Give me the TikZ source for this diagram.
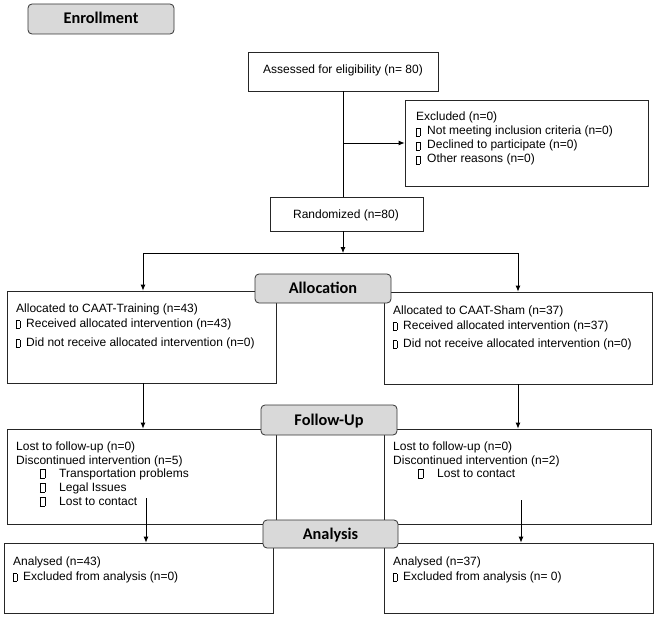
\documentclass[tikz,border=0pt]{standalone}
\usepackage{fontspec}
\setmainfont{Liberation Sans}
\newfontfamily\hdfont{Carlito}
\usetikzlibrary{arrows.meta,fit}
\newcommand\sqg[2]{\raisebox{-1pt}{\framebox(#1,#2){}}}
\newcommand\bl[1]{\makebox[#1][l]{\sqg{3.5}{7.5}}}
\newcommand\blb[1]{\makebox[#1][l]{\sqg{4.5}{9}}}
\begin{document}
\begin{tikzpicture}[x=1pt,y=-1pt,
 box/.style={draw=black!85, line width=0.8pt, inner sep=0pt},
 hdr/.style={draw=black!80, fill=black!15, rounded corners=4pt, line width=0.8pt, inner sep=0pt},
 hdt/.style={inner sep=0pt, anchor=center, font=\hdfont\bfseries\fontsize{16.3}{16}\selectfont, text height=10pt, text depth=0pt},
 ctx/.style={inner sep=0pt, anchor=center, font=\fontsize{12}{14}\selectfont, text height=8.6pt, text depth=0pt},
 txt/.style={anchor=base west, inner sep=0pt, font=\fontsize{12}{14}\selectfont},
 arr/.style={-{Latex[length=6pt,width=5pt]}, line width=0.8pt},
 ln/.style={line width=0.8pt}]

\useasboundingbox (0,0) rectangle (657,618);

% boxes
\node[box, fit={(248,52)(438,91)}] (assess) {};
\node[box, fit={(405,100)(648,186)}] (excl) {};
\node[box, fit={(270,197)(423,231)}] (rand) {};
\node[box, fit={(7,291)(276,383)}] (allocL) {};
\node[box, fit={(384,292)(652,384)}] (allocR) {};
\node[box, fit={(7,429)(276,524)}] (fuL) {};
\node[box, fit={(384,429)(651,524)}] (fuR) {};
\node[box, fit={(4,543)(273,613)}] (anL) {};
\node[box, fit={(384,543)(653,613)}] (anR) {};

% texts
\node[ctx] (asst) at (343,69) {Assessed for eligibility (n= 80)};
\node[ctx] (randt) at (346,214) {Randomized (n=80)};

\node[txt] (ex1) at (416,121) {Excluded (n=0)};
\node[txt] (ex2) at (416,135) {\bl{11pt}Not meeting inclusion criteria (n=0)};
\node[txt] (ex3) at (416,149) {\bl{11pt}Declined to participate (n=0)};
\node[txt] (ex4) at (416,163) {\bl{11pt}Other reasons (n=0)};

\node[txt] (al1) at (16,312) {Allocated to CAAT-Training (n=43)};
\node[txt] (al2) at (16,327) {\bl{10pt}Received allocated intervention (n=43)};
\node[txt] (al3) at (16,346) {\bl{10pt}Did not receive allocated intervention (n=0)};

\node[txt] (ar1) at (393,314) {Allocated to CAAT-Sham (n=37)};
\node[txt] (ar2) at (393,329) {\bl{10pt}Received allocated intervention (n=37)};
\node[txt] (ar3) at (393,347) {\bl{10pt}Did not receive allocated intervention (n=0)};

\node[txt] (fl1) at (16,450) {Lost to follow-up (n=0)};
\node[txt] (fl2) at (16,464) {Discontinued intervention (n=5)};
\node[txt] (fl3) at (40,477) {\blb{19pt}Transportation problems};
\node[txt] (fl4) at (40,491) {\blb{19pt}Legal Issues};
\node[txt] (fl5) at (40,505) {\blb{19pt}Lost to contact};

\node[txt] (fr1) at (393,450) {Lost to follow-up (n=0)};
\node[txt] (fr2) at (393,464) {Discontinued intervention (n=2)};
\node[txt] (fr3) at (418,477) {\blb{19pt}Lost to contact};

\node[txt] (nl1) at (13,565) {Analysed (n=43)};
\node[txt] (nl2) at (13,580) {\bl{10pt}Excluded from analysis (n=0)};
\node[txt] (nr1) at (393,565) {Analysed (n=37)};
\node[txt] (nr2) at (393,580) {\bl{10pt}Excluded from analysis (n= 0)};

% connectors
\coordinate (split) at (343,253);
\coordinate (sl) at (143,253);
\coordinate (sr) at (518,253);
\coordinate (fl) at (146,498);
\coordinate (fr) at (521,500);
\draw[ln] (assess.south -| split) -- (split |- rand.north);
\draw[arr] (split |- excl.west) -- (excl.west);
\draw[arr] (split |- rand.south) -- (split);
\draw[ln] (sl) -- (sr);
\draw[arr] (sl) -- (sl |- allocL.north);
\draw[arr] (sr) -- (sr |- allocR.north);
\draw[arr] (sl |- allocL.south) -- (sl |- fuL.north);
\draw[arr] (sr |- allocR.south) -- (sr |- fuR.north);
\draw[arr] (fl) -- (fl |- anL.north);
\draw[arr] (fr) -- (fr |- anR.north);

% headers
\node[hdr, fit={(28,4)(174,34)}] (enr) {};
\node[hdt] (enrt) at (enr.center) {Enrollment};
\node[hdr, fit={(255,274)(391,303)}] (alloc) {};
\node[hdt] (alloct) at (alloc.center) {Allocation};
\node[hdr, fit={(261,405)(397,435)}] (fu) {};
\node[hdt] (fut) at (fu.center) {Follow-Up};
\node[hdr, fit={(263,520)(398,548)}] (an) {};
\node[hdt] (ant) at (an.center) {Analysis};
\end{tikzpicture}
\end{document}
